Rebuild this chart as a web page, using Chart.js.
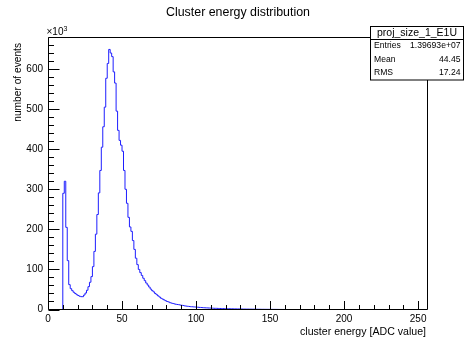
<!DOCTYPE html>
<html>
<head>
<meta charset="utf-8">
<script src="https://cdn.jsdelivr.net/npm/chart.js@4/dist/chart.umd.min.js"></script>
<style>
  html, body { margin: 0; padding: 0; background: #ffffff; }
  #wrap { width: 465px; height: 344px; position: relative; }
</style>
</head>
<body>
<div id="wrap"><canvas id="c" width="465" height="344"></canvas></div>
<script>
// ---- data (counts in units of 10^3 events, 1 ADC-wide bins starting at binStart) ----
const chartTitle = "Cluster energy distribution";
const xTitle = "cluster energy [ADC value]";
const yTitle = "number of events";
const histName = "proj_size_1_E1U";
const statLabels = ["Entries", "Mean", "RMS"];
const statValues = ["1.39693e+07", "44.45", "17.24"];
const xTickValues = [0, 50, 100, 150, 200, 250];
const yTickValues = [0, 100, 200, 300, 400, 500, 600];
const binStart = 10;
const binWidth = 1;
const counts = [
  290, 320, 205, 122, 62, 52, 47, 43, 40, 37,        // 10-19
  35, 33, 32, 32, 36, 41, 48, 57, 68, 82,            // 20-29
  107, 145, 188, 237, 291, 347, 405, 456, 505, 577,  // 30-39
  614, 649, 640, 631, 593, 565, 495, 447, 422, 410,  // 40-49
  395, 347, 300, 265, 230, 206, 195, 172, 150, 128,  // 50-59
  112, 100, 92, 85, 78, 72, 66, 61, 56, 51,          // 60-69
  47, 44, 40, 37, 34, 31, 28, 26, 24, 22,            // 70-79
  20, 19, 17, 16, 15, 14, 13, 12.5, 12, 11,          // 80-89
  10.5, 10, 9, 8.5, 8, 7.5, 7, 6.8, 6.5, 6.2,        // 90-99
  6, 5.6, 5.2, 5, 4.7, 4.4, 4.2, 4, 3.8, 3.6,        // 100-109
  3.4, 3.2, 3.0, 2.9, 2.8, 2.6, 2.5, 2.4, 2.3, 2.2,  // 110-119
  2.1, 2.0, 1.9, 1.8, 1.7, 1.6, 1.5, 1.45, 1.4, 1.3, // 120-129
  1.25, 1.2, 1.1, 1.05, 1.0, 0.95, 0.9, 0.85, 0.8, 0.75, // 130-139
  0.7, 0.65, 0.6, 0.55, 0.5, 0.48, 0.45, 0.42, 0.4, 0.37, // 140-149
  0.35, 0.32, 0.3, 0.28, 0.25, 0.2, 0.15, 0.12, 0.1, 0.08 // 150-159
];
const xMin = 0, xMax = 256;
const yMin = 0, yMax = 680;
const xMajorStep = 50, xMinorStep = 10;
const yMajorStep = 100, yMinorStep = 20;

// ---- build step points from the arrays ----
const pts = [{ x: binStart, y: 0 }];
counts.forEach((v, i) => pts.push({ x: binStart + i * binWidth, y: v }));
pts.push({ x: binStart + counts.length * binWidth, y: 0 });

const FONT = "'Liberation Sans', Arial, Helvetica, sans-serif";

const rootPlugin = {
  id: 'rootDecor',
  afterDraw(chart) {
    const ctx = chart.ctx;
    const a = chart.chartArea;
    const xs = chart.scales.x, ys = chart.scales.y;
    const L = Math.round(a.left) + 0.5, R = Math.round(a.right) + 0.5;
    const T = Math.round(a.top) + 0.5, B = Math.round(a.bottom) - 0.5;
    ctx.save();
    ctx.strokeStyle = '#000';
    ctx.lineWidth = 1;
    // frame
    ctx.beginPath();
    ctx.rect(L, T, R - L, B - T);
    ctx.stroke();
    // y ticks (inside)
    ctx.beginPath();
    for (let v = yMin; v <= yMax + 1e-9; v += yMinorStep) {
      const y = Math.round(ys.getPixelForValue(v)) + 0.5;
      const len = (v % yMajorStep === 0) ? 11 : 5.5;
      ctx.moveTo(L, y); ctx.lineTo(L + len, y);
    }
    // x ticks (inside)
    for (let v = xMin; v <= xMax + 1e-9; v += xMinorStep) {
      const x = Math.round(xs.getPixelForValue(v)) + 0.5;
      const len = (v % xMajorStep === 0) ? 8.5 : 4.5;
      ctx.moveTo(x, B); ctx.lineTo(x, B - len);
    }
    ctx.stroke();

    ctx.fillStyle = '#000';
    // title
    ctx.font = '12.4px ' + FONT;
    ctx.textAlign = 'center'; ctx.textBaseline = 'middle';
    ctx.fillText(chartTitle, 238, 13);
    // x title
    ctx.font = '10.6px ' + FONT;
    ctx.textAlign = 'right';
    ctx.fillText(xTitle, 426, 332.5);
    // y title
    ctx.save();
    ctx.translate(18.5, 43);
    ctx.rotate(-Math.PI / 2);
    ctx.font = '10.2px ' + FONT;
    ctx.textAlign = 'right'; ctx.textBaseline = 'middle';
    ctx.fillText(yTitle, 0, 0);
    ctx.restore();
    // x10^3
    ctx.font = '10px ' + FONT;
    ctx.textAlign = 'left'; ctx.textBaseline = 'middle';
    ctx.fillText('\u00d710', 46.5, 32.5);
    const w10 = ctx.measureText('\u00d710').width;
    ctx.font = '7px ' + FONT;
    ctx.fillText('3', 46.5 + w10, 29);

    // stats box
    const bx = 370.5, by = 26.5, bw = 93, bh = 53.5;
    ctx.fillStyle = '#fff';
    ctx.fillRect(bx, by, bw, bh);
    ctx.strokeStyle = '#000';
    ctx.strokeRect(bx, by, bw, bh);
    ctx.beginPath();
    ctx.moveTo(bx, 39.5); ctx.lineTo(bx + bw, 39.5);
    ctx.stroke();
    ctx.fillStyle = '#000';
    ctx.font = '10.5px ' + FONT;
    ctx.textAlign = 'center'; ctx.textBaseline = 'middle';
    ctx.fillText(histName, bx + bw / 2, 33.5);
    ctx.font = '8.6px ' + FONT;
    const rowsY = [45.5, 59.5, 73];
    statLabels.forEach((lab, i) => {
      ctx.textAlign = 'left';
      ctx.fillText(lab, 374, rowsY[i]);
      ctx.textAlign = 'right';
      ctx.fillText(statValues[i], 460.5, rowsY[i]);
    });
    ctx.restore();
  }
};

new Chart(document.getElementById('c'), {
  type: 'line',
  data: {
    datasets: [{
      data: pts,
      stepped: 'before',
      borderColor: 'rgb(30,30,255)',
      borderWidth: 1,
      pointRadius: 0,
      fill: false,
      tension: 0
    }]
  },
  options: {
    responsive: false,
    animation: false,
    events: [],
    layout: { padding: { left: 0, right: 38, top: 37, bottom: 0 } },
    plugins: { legend: { display: false }, title: { display: false }, tooltip: { enabled: false } },
    scales: {
      x: {
        type: 'linear', min: xMin, max: xMax,
        grid: { display: false, drawTicks: false },
        border: { display: false },
        ticks: { autoSkip: false, padding: 4, color: '#000', font: { family: FONT, size: 10 }, maxRotation: 0 },
        afterBuildTicks: s => { s.ticks = xTickValues.map(v => ({ value: v })); },
        afterFit: s => { s.height = 34.5; }
      },
      y: {
        type: 'linear', min: yMin, max: yMax,
        grid: { display: false, drawTicks: false },
        border: { display: false },
        ticks: { autoSkip: false, padding: 5, color: '#000', font: { family: FONT, size: 10 } },
        afterBuildTicks: s => { s.ticks = yTickValues.map(v => ({ value: v })); },
        afterFit: s => { s.width = 48; }
      }
    }
  },
  plugins: [rootPlugin]
});
</script>
</body>
</html>
